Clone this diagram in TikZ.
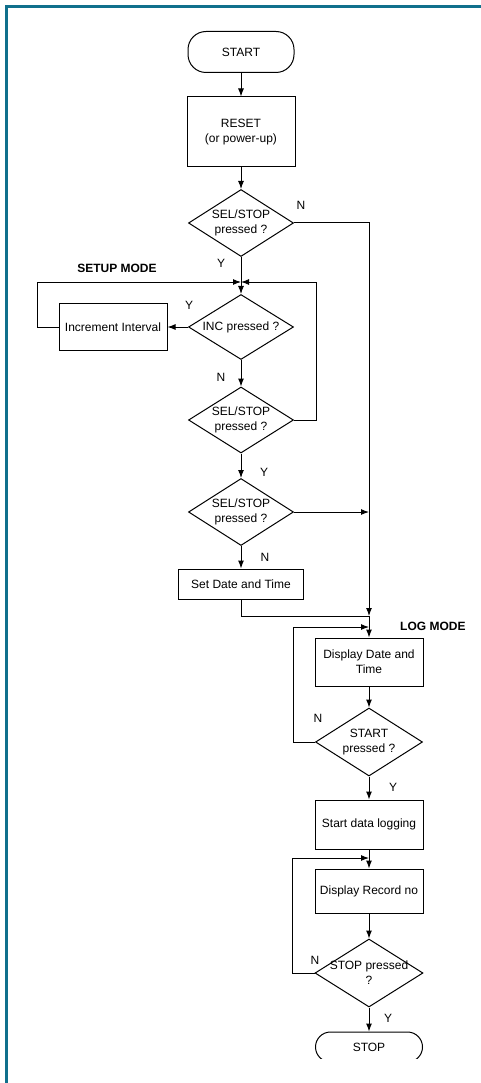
\documentclass[tikz,border=0pt]{standalone}
\usepackage{fontspec}
\setmainfont{Liberation Sans}
\usepackage{tikz}
\usetikzlibrary{arrows.meta,shapes.geometric,calc}
\definecolor{framecol}{RGB}{16,112,140}
\tikzset{
  box/.style={draw,line width=1pt,minimum width=108pt,minimum height=47pt,align=center,inner sep=2pt},
  decision/.style={draw,diamond,line width=1pt,aspect=1.6,inner sep=-6pt,minimum width=105pt,minimum height=67pt,align=center},
  terminal/.style={draw,line width=1pt,rounded corners=18pt,minimum width=106pt,minimum height=41pt},
  lbl/.style={inner sep=0pt},
  modelbl/.style={inner sep=0pt,font=\fontsize{12}{15}\selectfont\bfseries},
  flow/.style={line width=1pt,-{Latex[length=8pt,width=6pt]}},
  plain/.style={line width=1pt}
}

\begin{document}
\begin{tikzpicture}[x=1pt,y=-1pt,font=\fontsize{12}{15}\selectfont]
\useasboundingbox (0,0) rectangle (481,1083);
\fill[framecol] (5,5.5) rectangle (481,8.5);
\fill[framecol] (5,5.5) rectangle (8,1083);

\node[terminal] (start) at (241,52) {START};
\node[box,minimum height=70pt] (reset) at (241,132) {RESET\\(or power-up)};
\node[decision] (sel1) at (241,223) {SEL/STOP\\pressed ?};
\node[decision,minimum height=65pt] (inc) at (241,327) {INC pressed ?};
\node[box] (incint) at (113,327) {Increment Interval};
\node[decision,minimum height=66pt] (sel2) at (241,420) {SEL/STOP\\pressed ?};
\node[decision] (sel3) at (241,512) {SEL/STOP\\pressed ?};
\node[box,minimum width=125pt,minimum height=30pt] (setdt) at (241,584) {Set Date and Time};
\node[box,minimum height=48pt] (dispdt) at (369,662) {Display Date and\\Time};
\node[decision,minimum width=107pt,minimum height=68pt] (startp) at (369,742) {START\\pressed ?};
\node[box,minimum height=49pt] (logging) at (369,824.5) {Start data logging};
\node[box,minimum height=44pt] (disprec) at (369,891) {Display Record no};
\node[decision,minimum width=108pt,minimum height=68pt] (stopp) at (369,973) {STOP pressed\\?};
\begin{scope}
\clip (0,0) rectangle (481,1058);
\node[terminal,minimum width=107pt,minimum height=30pt,rounded corners=15pt] (stopnode) at (369,1047) {STOP};
\end{scope}

\node[modelbl] (setup) at (117,268) {SETUP MODE};
\node[modelbl,anchor=west] (logmode) at (400,626) {LOG MODE};

\coordinate (jset) at (241,282);
\coordinate (jlog) at (369,616);
\coordinate (jlog2) at (369,627);
\coordinate (jrec) at (369,858);

\draw[flow] (start) -- (reset);
\draw[flow] (reset) -- (sel1);
\draw[plain] (sel1) -- (jset);
\draw[flow] (jset) -- (inc);
\draw[flow] (inc) -- (incint);
\draw[flow] (incint.west) -- ++(-21,0) |- (jset);
\draw[flow] (inc) -- (sel2);
\draw[flow] (sel2.east) -- ++(22,0) |- (jset);
\draw[flow] (sel2) -- (sel3);
\draw[flow] (sel3) -- (setdt);
\draw[flow] (sel1.east) -| (jlog);
\draw[flow] (sel3.east) -- (sel3.east -| jlog);
\draw[plain] (setdt.south) |- (jlog);
\draw[plain] (jlog) -- (jlog2);
\draw[flow] (jlog2) -- (dispdt);
\draw[flow] (dispdt) -- (startp);
\draw[flow] (startp.west) -- ++(-22,0) |- (jlog2);
\draw[flow] (startp) -- (logging);
\draw[plain] (logging) -- (jrec);
\draw[flow] (jrec) -- (disprec);
\draw[flow] (disprec) -- (stopp);
\draw[flow] (stopp.west) -- ++(-22,0) |- (jrec);
\draw[flow] (stopp) -- (stopnode);

\node[lbl] (n1) at (301,205) {N};
\node[lbl] (y1) at (221,263) {Y};
\node[lbl] (y2) at (189,305) {Y};
\node[lbl] (n2) at (221,377) {N};
\node[lbl] (y3) at (264,472) {Y};
\node[lbl] (n3) at (265,557) {N};
\node[lbl] (n4) at (318,718) {N};
\node[lbl] (y4) at (393,787) {Y};
\node[lbl] (n5) at (315,960) {N};
\node[lbl] (y5) at (388,1018) {Y};
\end{tikzpicture}
\end{document}
